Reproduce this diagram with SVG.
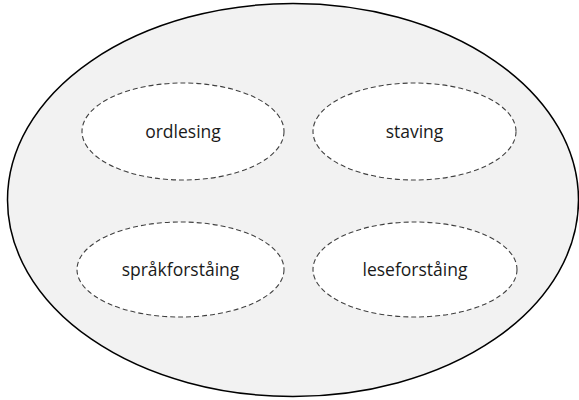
<svg xmlns="http://www.w3.org/2000/svg" width="579" height="400" viewBox="0 0 579 400">
<style>
.outer{fill:#f2f2f2;stroke:#000;stroke-width:1.5}
.inner{fill:#fff;stroke:#404040;stroke-width:1.1;stroke-dasharray:5 3}
.lbl{font-family:"Open Sans","Liberation Sans",sans-serif;font-size:17.5px;fill:#1a1a1a;text-anchor:middle;dominant-baseline:central}
</style>
<rect width="579" height="400" fill="#fff"/>
<g id="outer"><ellipse class="outer" cx="293" cy="200" rx="285.5" ry="196.5"/></g>
<g id="ordlesing"><ellipse class="inner" cx="183" cy="131.5" rx="101" ry="48.5"/><text class="lbl" x="183" y="131">ordlesing</text></g>
<g id="staving"><ellipse class="inner" cx="414.5" cy="131.5" rx="101.5" ry="48.5"/><text class="lbl" x="414.5" y="131">staving</text></g>
<g id="sprakforstaing"><ellipse class="inner" cx="180.5" cy="269.5" rx="103.5" ry="47.5"/><text class="lbl" x="180.5" y="269">språkforståing</text></g>
<g id="leseforstaing"><ellipse class="inner" cx="415" cy="269.5" rx="102" ry="47.5"/><text class="lbl" x="415" y="269">leseforståing</text></g>
<g id="connectors"/>
</svg>
